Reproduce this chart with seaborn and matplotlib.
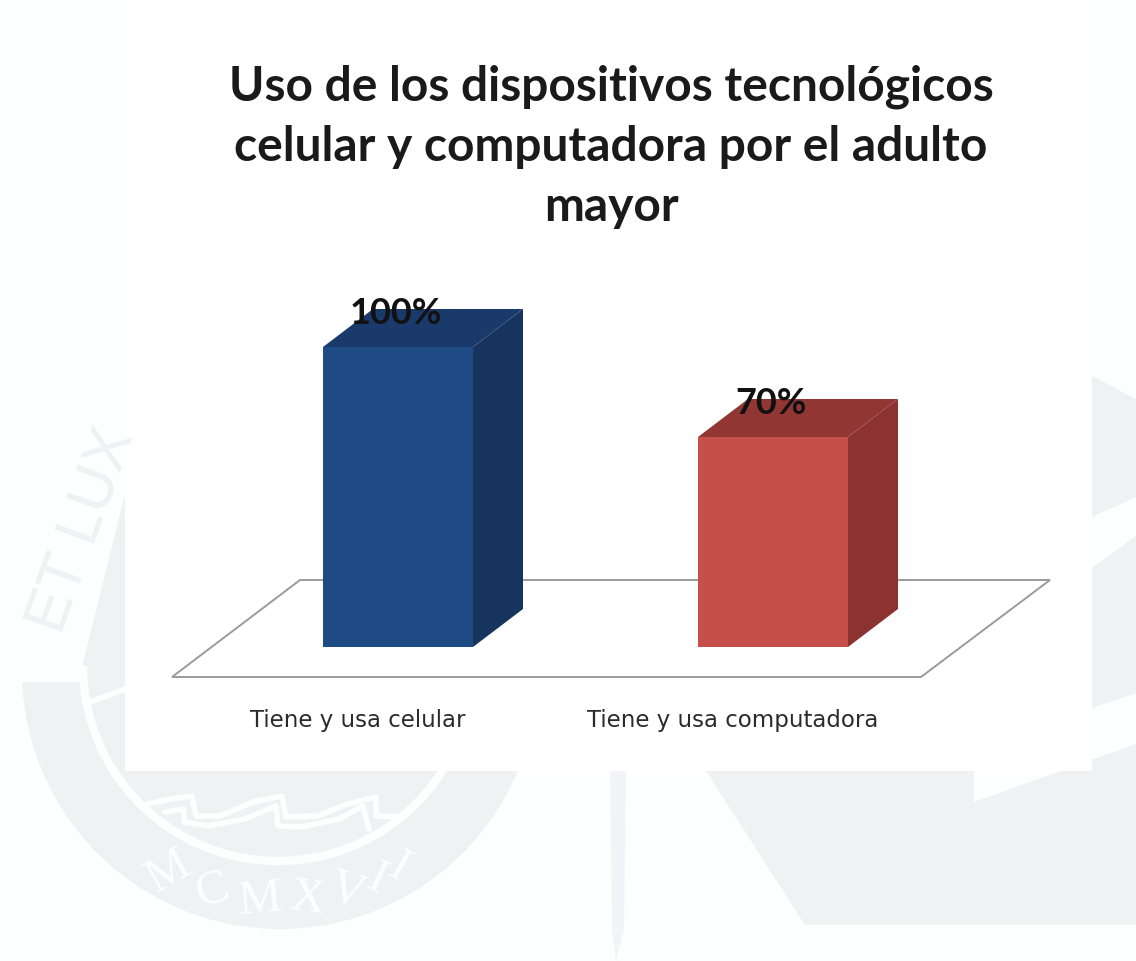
import matplotlib
matplotlib.use("Agg")
import matplotlib.pyplot as plt
from matplotlib.patches import Polygon, Circle, Arc, Rectangle
import numpy as np
import pandas as pd
import seaborn as sns

# Chart content
title = "Uso de los dispositivos tecnológicos\ncelular y computadora por el adulto\nmayor"
categories = ["Tiene y usa celular", "Tiene y usa computadora"]
values = [100, 70]
front_colors = ["#1f4b85", "#c44f4b"]
side_colors = ["#17345f", "#8c3331"]
top_colors = ["#1b3a6c", "#923634"]

W, H = 1136, 962
PAGE = "#fdfefe"
SEAL = "#eff1f3"

sns.set_theme(style="white")
plt.rcParams["font.family"] = ["DejaVu Sans"]

fig = plt.figure(figsize=(W / 100, H / 100), dpi=100, facecolor=PAGE)

# Page backdrop: pale university seal behind a white chart panel (pixel coordinates)
bg = fig.add_axes([0, 0, 1, 1], zorder=0)
bg.set_xlim(0, W)
bg.set_ylim(H, 0)
bg.axis("off")

CX, CY, R_OUT, R_RING = 280, 672, 258, 195
disc = Circle((CX, CY), R_OUT, fc=SEAL, ec="none")
bg.add_patch(disc)
disc.set_clip_path(Rectangle((0, 683), W, H, transform=bg.transData))
bg.add_patch(Polygon([(83, 664), (125, 495), (125, 700), (88, 700)], fc=SEAL, ec="none"))
bg.add_patch(Arc((CX - 2, CY - 5), 2 * R_RING, 2 * R_RING, theta1=0, theta2=180, color=PAGE, lw=6))
bg.plot([85, 125], [705, 690], color=PAGE, lw=4)

# Waves inside the seal
wave_upper_x = [147, 171, 192, 196, 220, 253, 282, 286, 318, 347, 376, 376, 402]
wave_upper_y = [805, 800, 797, 817, 817, 803, 797, 818, 817, 805, 798, 817, 818]
wave_lower_x = [165, 184, 184, 208, 245, 276, 278, 302, 339, 363, 369]
wave_lower_y = [813, 810, 823, 827, 820, 807, 827, 828, 820, 807, 830]
bg.plot(wave_upper_x, wave_upper_y, color=PAGE, lw=4, solid_joinstyle="round")
bg.plot(wave_lower_x, wave_lower_y, color=PAGE, lw=4, solid_joinstyle="round")

# Motto and founding year follow the ring
motto_letters = list("MCMXVII")
motto_angles = [-29, -17, -5, 7, 17, 25, 31]
for letter, angle in zip(motto_letters, motto_angles):
    a = np.radians(angle)
    bg.text(CX + 229 * np.sin(a), CY + 229 * np.cos(a), letter, color=PAGE, fontsize=35,
            rotation=-angle, ha="center", va="center", family="Liberation Serif")
bg.text(82, 530, "ET LUX", color=SEAL, fontsize=44, rotation=70, ha="center", va="center",
        family="Liberation Sans")

# Remaining seal fragments to the right of the chart
bg.add_patch(Polygon([(610, 772), (626, 772), (624, 930), (616, H), (612, 930)], fc="#f3f4f8", ec="none"))
bg.add_patch(Polygon([(706, 772), (974, 772), (974, 803), (1136, 745), (1136, 926), (805, 926)],
                     fc=SEAL, ec="none"))
bg.add_patch(Polygon([(1092, 377), (1136, 400), (1136, 498), (1092, 518)], fc=SEAL, ec="none"))
bg.add_patch(Polygon([(1092, 569), (1136, 537), (1136, 694), (1092, 709)], fc=SEAL, ec="none"))
bg.add_patch(Rectangle((125, 0), 967, 772, fc="white", ec="none"))

# Chart axes
left, right, top, bottom = 125, 1092, 290, 678
ax = fig.add_axes([left / W, 1 - bottom / H, (right - left) / W, (bottom - top) / H], zorder=1)
ax.patch.set_alpha(0)

PX_PER_CAT = 375
PX_PER_PCT = 3
CAT0_PX = 398
BASE_PX = 648
to_x = lambda px: (px - CAT0_PX) / PX_PER_CAT
to_y = lambda py: (BASE_PX - py) / PX_PER_PCT

df = pd.DataFrame({"category": categories, "value": values})
sns.barplot(data=df, x="category", y="value", hue="category", palette=front_colors,
            width=0.4, legend=False, saturation=1, ax=ax, zorder=3, linewidth=0)

ax.set_xlim(to_x(left), to_x(right))
ax.set_ylim(to_y(bottom), to_y(top))
ax.set_xlabel("")
ax.set_ylabel("")
ax.set_yticks([])
ax.set_xticks([to_x(358), to_x(733)], labels=categories)
ax.tick_params(axis="x", length=0, pad=22, labelsize=16.5, labelcolor="#2b2b2b")
sns.despine(ax=ax, left=True, bottom=True)

# Perspective floor under the bars
floor = [(172, 678), (921, 678), (1050, 581), (300, 581)]
ax.add_patch(Polygon([(to_x(x), to_y(y)) for x, y in floor], closed=True, fc="white",
                     ec="#9b9b9b", lw=1.4, clip_on=False, zorder=1))

# Extrude each bar into a box and label it with its value
DX = 50 / PX_PER_CAT
DY = 38 / PX_PER_PCT
for i, bar in enumerate(ax.patches[:len(values)]):
    x0, x1 = bar.get_x(), bar.get_x() + bar.get_width()
    h = bar.get_height()
    ax.add_patch(Polygon([(x1, 0), (x1 + DX, DY), (x1 + DX, h + DY), (x1, h)],
                         fc=side_colors[i], ec="none", zorder=2.5))
    ax.add_patch(Polygon([(x0, h), (x0 + DX, h + DY), (x1 + DX, h + DY), (x1, h)],
                         fc=top_colors[i], ec="none", zorder=2.5))
    ax.text((x0 + x1) / 2 - 0.005, h + 11.5, f"{values[i]}%", ha="center", va="center", fontsize=26,
            fontweight="bold", color="#111111", family="Lato", zorder=5)

fig.text(611 / W, 1 - 147 / H, title, ha="center", va="center", fontsize=34.5, fontweight="bold",
         family="Lato", color="#1a1a1a", linespacing=1.45)

fig.savefig("out.png", dpi=100, facecolor=fig.get_facecolor())
